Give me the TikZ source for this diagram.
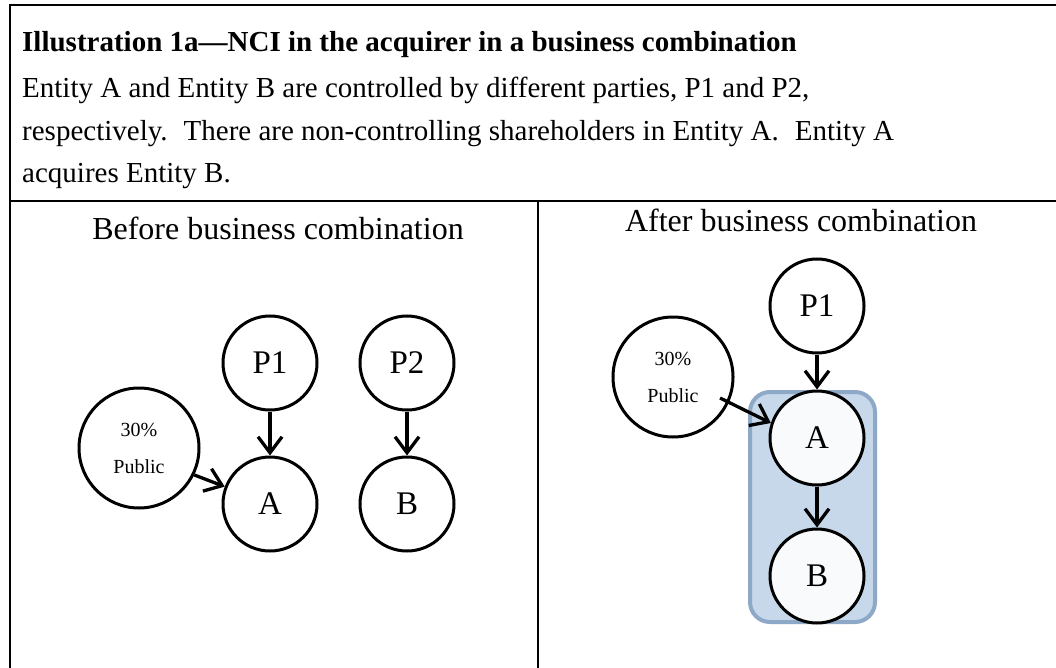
\documentclass[tikz,border=0pt]{standalone}
\usepackage{fontspec}
\setmainfont{Liberation Serif}
\usetikzlibrary{arrows.meta,calc}
\definecolor{boxfill}{HTML}{C8D8EB}
\definecolor{boxline}{HTML}{8EA8C8}
\definecolor{innerfill}{HTML}{F8FAFC}
\begin{document}
\begin{tikzpicture}[x=1pt,y=-1pt,
  ent/.style={circle,draw,line width=3pt,fill=white,minimum size=94pt,inner sep=0pt,font=\fontsize{33}{36}\selectfont},
  pub/.style={circle,draw,line width=3pt,fill=white,minimum size=120pt,inner sep=0pt,align=center,font=\fontsize{20}{37}\selectfont},
  arr/.style={line width=3.3pt,-{Straight Barb[length=16pt,width=24pt,line width=3.3pt]}},
  frameline/.style={line width=2pt},
  txt/.style={inner sep=0pt,font=\fontsize{29}{34}\selectfont},
  hdr/.style={inner sep=0pt,font=\fontsize{32}{36}\selectfont},
  grpbox/.style={draw=boxline,fill=boxfill,line width=4pt,rounded corners=20pt,minimum width=125pt,minimum height=230pt,inner sep=0pt}
]
\useasboundingbox[fill=white] (0,0) rectangle (1056,668);
% frame
\draw[frameline] (10,668) -- (10,5) -- (1056,5);
\draw[frameline] (10,201) -- (1056,201);
\draw[frameline] (538,201) -- (538,668);
% texts
\node[txt,anchor=base west,font=\bfseries\fontsize{29}{34}\selectfont] (title) at (22,52) {Illustration 1a—NCI in the acquirer in a business combination};
\node[txt,anchor=base west] (l1) at (22,98) {Entity A and Entity B are controlled by different parties, P1 and P2,};
\node[txt,anchor=base west] (l2) at (22,141) {respectively.\hspace{16pt}There are non-controlling shareholders in Entity A.\hspace{16pt}Entity A};
\node[txt,anchor=base west] (l3) at (22,183) {acquires Entity B.};
\node[hdr,anchor=base] (before) at (278,240) {Before business combination};
\node[hdr,anchor=base] (after) at (801,231) {After business combination};
% left diagram
\node[ent] (p1L) at (270,363) {P1};
\node[ent] (p2L) at (407,363) {P2};
\node[ent] (aL) at (270,504) {A};
\node[ent] (bL) at (407,504) {B};
\node[pub] (pubL) at (139,448) {30\%\\Public};
\draw[arr] (p1L) -- (aL);
\draw[arr] (p2L) -- (bL);
\draw[arr] (pubL.-26) -- (aL.159);
% right diagram
\node[grpbox] (grp) at (812.5,507) {};
\node[ent] (p1R) at (817,306) {P1};
\node[pub] (pubR) at (673,377) {30\%\\Public};
\node[ent,fill=innerfill] (aR) at (817,438) {A};
\node[ent,fill=innerfill] (bR) at (817,576) {B};
\draw[arr] (p1R) -- (aR);
\draw[arr] (aR) -- (bR);
\coordinate (pubRs) at (720,398);
\draw[arr] (pubRs) -- (aR.162);
\end{tikzpicture}
\end{document}
